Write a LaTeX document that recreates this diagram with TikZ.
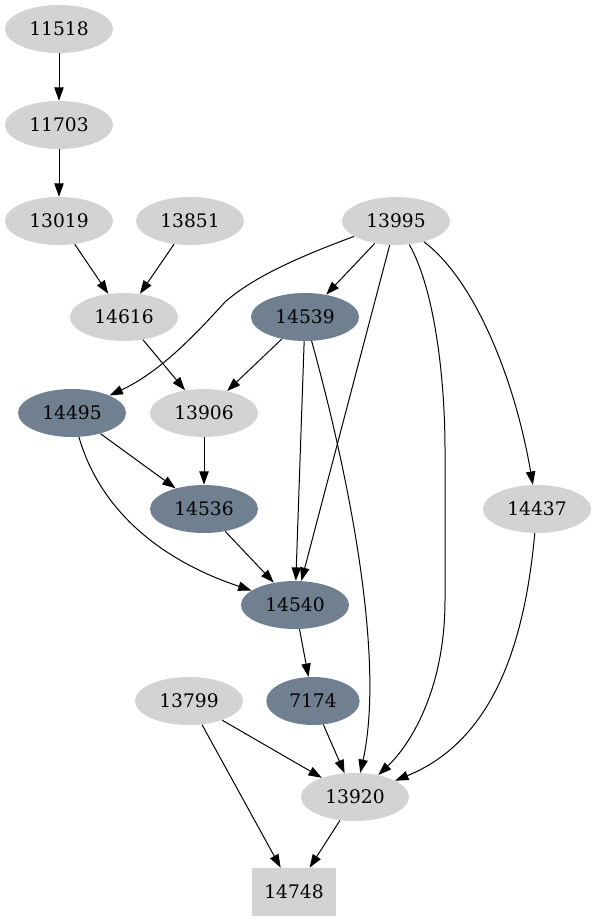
\documentclass[tikz,border=0pt]{standalone}
\usepackage{fontspec}
\setmainfont{DejaVu Serif}
\usetikzlibrary{arrows.meta,shapes.geometric}
\definecolor{lg}{HTML}{D3D3D3}
\definecolor{sg}{HTML}{708090}
\begin{document}
\begin{tikzpicture}[x=0.75pt,y=-0.75pt,
  every node/.style={font=\fontsize{14}{16}\selectfont, inner sep=0pt},
  lnode/.style={ellipse, fill=lg, minimum width=81pt, minimum height=36pt},
  dnode/.style={ellipse, fill=sg, minimum width=81pt, minimum height=36pt},
  bnode/.style={rectangle, fill=lg, minimum width=63pt, minimum height=36pt},
  edge/.style={draw, line width=0.75pt, -{Triangle[length=10pt,width=7pt]}}]
\useasboundingbox (0,0) rectangle (597,923);
\node[lnode] (n11518) at (59,29) {11518};
\node[lnode] (n11703) at (59,125) {11703};
\node[lnode] (n13019) at (59,221) {13019};
\node[lnode] (n13851) at (190,221) {13851};
\node[lnode] (n13995) at (396,221) {13995};
\node[lnode] (n14616) at (124,317) {14616};
\node[dnode] (n14539) at (305,317) {14539};
\node[dnode] (n14495) at (72,413) {14495};
\node[lnode] (n13906) at (204,413) {13906};
\node[dnode] (n14536) at (204,509) {14536};
\node[lnode] (n14437) at (537,509) {14437};
\node[dnode] (n14540) at (295,605) {14540};
\node[lnode] (n13799) at (189,701) {13799};
\node[dnode, minimum width=70pt] (n7174) at (313,701) {7174};
\node[lnode] (n13920) at (355,797) {13920};
\node[bnode] (n14748) at (294,892) {14748};

\draw[edge] (n11518) -- (n11703);
\draw[edge] (n11703) -- (n13019);
\draw[edge] (n13019) -- (n14616);
\draw[edge] (n13851) -- (n14616);
\draw[edge] (n13995) .. controls (290,260) and (250,280) .. (225,302) .. controls (195,335) and (160,372) .. (n14495);
\draw[edge] (n13995) -- (n14539);
\draw[edge] (n13995) -- (n14540);
\draw[edge] (n13995) .. controls (435,290) and (445,380) .. (445,450) -- (445,600) .. controls (445,690) and (410,745) .. (n13920);
\draw[edge] (n13995) .. controls (475,280) and (515,380) .. (n14437);
\draw[edge] (n14616) -- (n13906);
\draw[edge] (n14539) -- (n13906);
\draw[edge] (n14539) -- (n14540);
\draw[edge] (n14539) .. controls (350,480) and (385,660) .. (n13920);
\draw[edge] (n14495) -- (n14536);
\draw[edge] (n14495) .. controls (100,510) and (160,560) .. (n14540);
\draw[edge] (n13906) -- (n14536);
\draw[edge] (n14536) -- (n14540);
\draw[edge] (n14437) .. controls (525,640) and (495,740) .. (n13920);
\draw[edge] (n14540) -- (n7174);
\draw[edge] (n7174) -- (n13920);
\draw[edge] (n13799) -- (n13920);
\draw[edge] (n13799) -- (n14748);
\draw[edge] (n13920) -- (n14748);
\end{tikzpicture}
\end{document}
